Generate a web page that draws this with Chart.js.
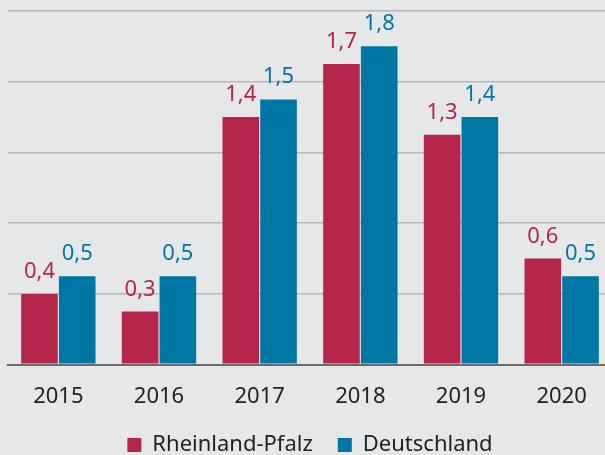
<!DOCTYPE html>
<html>
<head>
<meta charset="utf-8">
<script src="https://cdn.jsdelivr.net/npm/chart.js@4"></script>
<style>
  html, body { margin: 0; padding: 0; background: #e6e7e9; overflow: hidden; }
  #wrap { width: 605px; height: 455px; overflow: hidden; }
</style>
</head>
<body>
<div id="wrap"><canvas id="chart" width="612" height="466"></canvas></div>
<script>
const years = ["2015", "2016", "2017", "2018", "2019", "2020"];
const rheinlandPfalz = [0.4, 0.3, 1.4, 1.7, 1.3, 0.6];
const deutschland = [0.5, 0.5, 1.5, 1.8, 1.4, 0.5];
const seriesNames = ["Rheinland-Pfalz", "Deutschland"];

const RED = "#b5264b";
const BLUE = "#0076a3";
const FONT = "'Noto Sans', 'Open Sans', sans-serif";

// values written above each bar in the bar's colour
const valueLabels = {
    id: "valueLabels",
    afterDatasetsDraw(chart) {
        const ctx = chart.ctx;
        ctx.save();
        ctx.font = "22px " + FONT;
        ctx.textAlign = "center";
        ctx.textBaseline = "alphabetic";
        chart.data.datasets.forEach((ds, i) => {
            chart.getDatasetMeta(i).data.forEach((bar, j) => {
                ctx.fillStyle = ds.backgroundColor;
                ctx.fillText(ds.data[j].toFixed(1).replace(".", ","), bar.x, bar.y - 16);
            });
        });
        ctx.restore();
    }
};

new Chart(document.getElementById("chart"), {
    type: "bar",
    data: {
        labels: years,
        datasets: [
            { label: seriesNames[0], data: rheinlandPfalz, backgroundColor: RED },
            { label: seriesNames[1], data: deutschland, backgroundColor: BLUE }
        ]
    },
    options: {
        responsive: false,
        animation: false,
        layout: { padding: { left: 8, top: 11, right: 0, bottom: 0 } },
        datasets: {
            bar: { categoryPercentage: 0.75, barPercentage: 0.97 }
        },
        scales: {
            x: {
                grid: { display: false },
                border: { display: true, color: "#6b6b6b", width: 2 },
                ticks: { color: "#222", font: { family: FONT, size: 22 }, padding: 11 },
                afterFit: (s) => { s.height -= 12; }
            },
            y: {
                min: 0,
                max: 2,
                ticks: { display: false, stepSize: 0.4 },
                border: { display: false },
                grid: {
                    drawTicks: false,
                    color: (c) => c.tick && c.tick.value === 0 ? "#6b6b6b" : "#b7b7b9",
                    lineWidth: (c) => c.tick && c.tick.value === 0 ? 2 : 1.5
                }
            }
        },
        plugins: {
            tooltip: { enabled: false },
            legend: {
                position: "bottom",
                labels: {
                    color: "#222",
                    font: { family: FONT, size: 22 },
                    boxWidth: 14,
                    boxHeight: 14,
                    padding: 25
                }
            }
        }
    },
    plugins: [valueLabels]
});
</script>
</body>
</html>
